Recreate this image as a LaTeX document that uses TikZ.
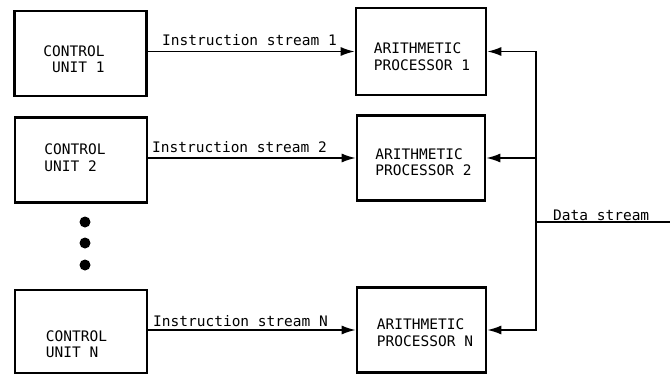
\documentclass[tikz,border=0pt]{standalone}
\usepackage{fontspec}
\setmonofont{DejaVu Sans Mono}
\usetikzlibrary{arrows.meta}

\begin{document}
\begin{tikzpicture}[x=1pt, y=-1pt,
    blk/.style={draw, line width=2.6pt, minimum width=132pt, minimum height=85pt, inner sep=0pt},
    txt/.style={font=\ttfamily\fontsize{14.5}{16.5}\selectfont, align=left, inner sep=0pt},
    wire/.style={line width=1.6pt},
    feed/.style={wire, -{Latex[length=14pt,width=9pt]}}]
    \useasboundingbox (0,0) rectangle (670,375);

    % control units
    \node[blk] (cu1) at (80.5,53.5) {};
    \node[blk] (cu2) at (81,160) {};
    \node[blk, minimum height=83pt] (cuN) at (81,331.5) {};
    \node[txt] (cu1t) at (74,59) {CONTROL\\\hphantom{U}UNIT 1};
    \node[txt] (cu2t) at (75,157.5) {CONTROL\\UNIT 2};
    \node[txt] (cuNt) at (76.5,344) {CONTROL\\UNIT N};

    \foreach \y in {222,243,265}
        \fill (85,\y) circle (5.5pt);

    % arithmetic processors
    \node[blk, minimum width=130pt, minimum height=87pt] (ap1) at (421,51.5) {};
    \node[blk, minimum width=128pt] (ap2) at (421,158) {};
    \node[blk, minimum width=129pt] (apN) at (421.5,330) {};
    \node[txt] (ap1t) at (422,56.5) {ARITHMETIC\\PROCESSOR 1};
    \node[txt] (ap2t) at (423.5,162) {ARITHMETIC\\PROCESSOR 2};
    \node[txt] (apNt) at (425,332.5) {ARITHMETIC\\PROCESSOR N};

    % instruction streams
    \foreach \n in {1,2,N}
        \draw[feed] (cu\n.east |- ap\n.west) -- (ap\n.west);
    \node[txt, anchor=base west] (is1) at (162,45) {Instruction stream 1};
    \node[txt, anchor=base west] (is2) at (152,152) {Instruction stream 2};
    \node[txt, anchor=base west] (isN) at (153,326) {Instruction stream N};

    % data stream
    \coordinate (dsin) at (670,222);
    \coordinate (bus) at (536,222);
    \draw[wire] (dsin) -- (bus);
    \draw[wire, line cap=rect] (bus |- ap1.east) -- (bus |- apN.east);
    \foreach \n in {1,2,N}
        \draw[feed] (bus |- ap\n.east) -- (ap\n.east);
    \node[txt, anchor=base west] (ds) at (553,220) {Data stream};
\end{tikzpicture}
\end{document}
